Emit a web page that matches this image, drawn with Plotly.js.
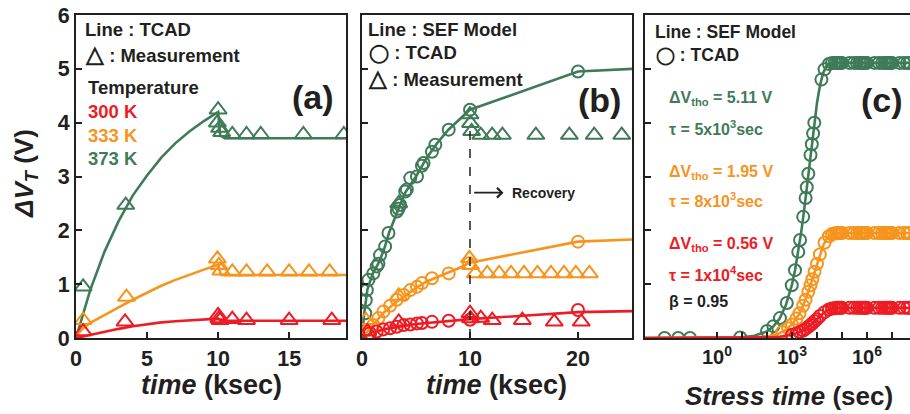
<!DOCTYPE html>
<html>
<head>
<meta charset="utf-8">
<script src="https://cdn.plot.ly/plotly-3.0.1.min.js"></script>
<style>html,body{margin:0;padding:0;background:#fff;}#chart{width:910px;height:414px;}</style>
</head>
<body>
<div id="chart"></div>
<script>
// ---------- Panel (a): TCAD lines and measurement triangles (time in ksec) ----------
const aGreenLineT = [0, 0.5, 1, 2, 3, 4, 5, 6, 7, 8, 9, 10, 10.15, 10.5, 19];
const aGreenLineV = [0, 0.46, 0.89, 1.6, 2.17, 2.65, 3.02, 3.35, 3.62, 3.84, 4.03, 4.2, 3.76, 3.71, 3.71];
const aOrangeLineT = [0, 0.5, 1, 2, 3, 4, 5, 6, 7, 8, 9, 10, 10.2, 19];
const aOrangeLineV = [0.05, 0.18, 0.28, 0.43, 0.57, 0.71, 0.84, 0.97, 1.08, 1.18, 1.27, 1.36, 1.17, 1.17];
const aRedLineT = [0, 1, 2, 3, 4, 5, 6, 7, 8, 9, 10, 10.2, 19];
const aRedLineV = [0, 0.06, 0.12, 0.17, 0.22, 0.26, 0.29, 0.31, 0.33, 0.35, 0.36, 0.32, 0.32];

const aGreenMeasT = [0.5, 3.5, 10, 9.95, 10.1, 10.25, 11, 12, 13, 16, 18.85];
const aGreenMeasV = [0.95, 2.47, 4.24, 4.0, 3.9, 3.82, 3.78, 3.78, 3.78, 3.78, 3.78];
const aOrangeMeasT = [0.5, 3.55, 9.95, 10.05, 10.2, 11, 12, 13.45, 15, 16.4, 17.85];
const aOrangeMeasV = [0.33, 0.76, 1.47, 1.35, 1.25, 1.23, 1.23, 1.23, 1.23, 1.23, 1.23];
const aRedMeasT = [0.5, 3.45, 10, 10.05, 10.15, 11, 12, 15, 18];
const aRedMeasV = [0.12, 0.3, 0.42, 0.36, 0.33, 0.35, 0.33, 0.33, 0.33];

// ---------- Panel (b): SEF model lines, TCAD circles, measurement triangles ----------
const bGreenLineT = [0, 0.2, 0.5, 1, 1.5, 2, 2.5, 3, 3.5, 4, 5, 6, 7, 8, 9, 10, 20, 25];
const bGreenLineV = [0, 0.45, 0.9, 1.2, 1.38, 1.62, 1.95, 2.22, 2.46, 2.7, 3.0, 3.35, 3.63, 3.87, 4.06, 4.24, 4.95, 5.0];
const bOrangeLineT = [0, 0.5, 1, 1.5, 2, 3, 4, 5, 6, 7, 8, 9, 10, 20, 25];
const bOrangeLineV = [0, 0.12, 0.24, 0.36, 0.47, 0.64, 0.79, 0.93, 1.05, 1.13, 1.21, 1.3, 1.4, 1.79, 1.83];
const bRedLineT = [0, 1, 2, 3, 4, 5, 6, 7, 8, 9, 10, 20, 25];
const bRedLineV = [0, 0.1, 0.16, 0.2, 0.23, 0.26, 0.28, 0.3, 0.32, 0.33, 0.35, 0.48, 0.5];

const bGreenTcadT = [0.25, 0.3, 0.35, 0.45, 0.6, 1.05, 1.36, 1.52, 1.67, 2.14, 2.45, 3.23, 3.38, 3.53, 4.0, 4.15, 4.47, 5.09, 5.55, 5.7, 6.48, 6.79, 8.03, 10, 20];
const bGreenTcadV = [0.15, 0.46, 0.7, 0.89, 1.08, 1.2, 1.33, 1.38, 1.54, 1.7, 1.95, 2.35, 2.4, 2.47, 2.72, 2.76, 2.97, 3.0, 3.2, 3.25, 3.46, 3.59, 3.87, 4.24, 4.95];
const bOrangeTcadT = [0.59, 1.05, 1.52, 1.98, 2.6, 3.22, 3.85, 4.47, 5.09, 5.55, 6.48, 8.03, 9.9, 20];
const bOrangeTcadV = [0.15, 0.24, 0.37, 0.49, 0.6, 0.71, 0.8, 0.89, 0.95, 1.02, 1.11, 1.2, 1.39, 1.79];
const bRedTcadT = [0.74, 1.36, 1.98, 2.6, 3.22, 3.85, 4.47, 5.09, 5.55, 6.48, 8.03, 10, 20];
const bRedTcadV = [0.09, 0.12, 0.16, 0.18, 0.21, 0.24, 0.25, 0.27, 0.28, 0.3, 0.32, 0.34, 0.52];

const bGreenMeasT = [3.4, 10, 10.05, 10.15, 11, 12.05, 13, 16.1, 19.2, 21.5, 24.05];
const bGreenMeasV = [2.5, 4.15, 3.99, 3.84, 3.77, 3.77, 3.77, 3.77, 3.77, 3.77, 3.77];
const bOrangeMeasT = [0.35, 3.4, 9.95, 10.05, 10.5, 11.6, 12.7, 13.8, 15.0, 16.25, 17.5, 18.7, 19.8, 21.05];
const bOrangeMeasV = [0.33, 0.78, 1.48, 1.35, 1.2, 1.2, 1.2, 1.2, 1.2, 1.2, 1.2, 1.2, 1.2, 1.2];
const bRedMeasT = [0.5, 3.4, 10, 10.05, 11, 12.06, 14.85, 17.8, 20.3];
const bRedMeasV = [0.12, 0.3, 0.46, 0.36, 0.37, 0.33, 0.33, 0.3, 0.3];

const recoveryStart = 10;      // ksec, stress end
const recoveryDashTop = 3.9;   // V

// ---------- Panel (c): SEF model vs stress time (sec, log) ----------
const cLineT = [0.001, 0.01, 0.1, 1, 10, 31.6, 100, 178, 316, 562, 1000, 1333, 1778, 2371, 3162, 4217, 5623, 7499, 10000, 13335, 17783, 23714, 31623, 56234, 100000, 1e6, 1e7, 1e8];
const cGreenLineV = [0, 0, 0, 0.002, 0.014, 0.042, 0.123, 0.211, 0.358, 0.602, 0.997, 1.267, 1.6, 1.986, 2.43, 2.928, 3.44, 3.935, 4.37, 4.706, 4.93, 5.046, 5.094, 5.11, 5.11, 5.11, 5.11, 5.11];
const cOrangeLineV = [0, 0, 0, 0, 0.003, 0.01, 0.03, 0.052, 0.089, 0.15, 0.253, 0.325, 0.416, 0.527, 0.661, 0.819, 0.997, 1.189, 1.384, 1.566, 1.72, 1.832, 1.901, 1.947, 1.95, 1.95, 1.95, 1.95];
const cRedLineV = [0, 0, 0, 0, 0.001, 0.002, 0.007, 0.012, 0.021, 0.035, 0.059, 0.077, 0.099, 0.126, 0.159, 0.199, 0.246, 0.298, 0.354, 0.41, 0.461, 0.502, 0.532, 0.557, 0.56, 0.56, 0.56, 0.56];

const cGreenTcadT = [0.008, 0.028, 0.083, 8.5, 100, 180, 330, 620, 980, 1320, 1780, 2100, 2800, 3500, 3900, 4500, 5500, 6200, 7000, 7800, 15000, 20000, 30000,
  40000, 50000, 60000, 70000, 80000, 90000, 1e5, 2e5, 3e5, 4e5, 5e5, 6e5, 7e5, 8e5, 9e5, 1e6, 2e6, 3e6, 4e6, 5e6, 6e6, 7e6, 8e6, 9e6, 1e7, 2e7, 3e7, 4e7, 5e7];
const cGreenTcadV = [0, 0, 0, 0.01, 0.13, 0.22, 0.37, 0.65, 0.98, 1.26, 1.6, 1.82, 2.25, 2.6, 2.8, 3.05, 3.4, 3.6, 3.8, 4.0, 4.8, 4.99, 5.09,
  5.11, 5.11, 5.11, 5.11, 5.11, 5.11, 5.11, 5.11, 5.11, 5.11, 5.11, 5.11, 5.11, 5.11, 5.11, 5.11, 5.11, 5.11, 5.11, 5.11, 5.11, 5.11, 5.11, 5.11, 5.11, 5.11, 5.11, 5.11, 5.11];
const cOrangeTcadT = [400, 700, 1000, 1500, 2000, 2800, 3500, 4500, 5500, 6500, 8000, 10000, 13000, 20000, 30000,
  40000, 50000, 60000, 70000, 80000, 90000, 1e5, 2e5, 3e5, 4e5, 5e5, 6e5, 7e5, 8e5, 9e5, 1e6, 2e6, 3e6, 4e6, 5e6, 6e6, 7e6, 8e6, 9e6, 1e7, 2e7, 3e7, 4e7, 5e7];
const cOrangeTcadV = [0.11, 0.18, 0.25, 0.36, 0.46, 0.6, 0.71, 0.86, 0.98, 1.09, 1.23, 1.38, 1.55, 1.77, 1.89,
  1.93, 1.94, 1.95, 1.95, 1.95, 1.95, 1.95, 1.95, 1.95, 1.95, 1.95, 1.95, 1.95, 1.95, 1.95, 1.95, 1.95, 1.95, 1.95, 1.95, 1.95, 1.95, 1.95, 1.95, 1.95, 1.95, 1.95, 1.95, 1.95];
const cRedTcadT = [1000, 1500, 2000, 2800, 3500, 4500, 5500, 6500, 8000, 10000, 13000, 20000, 30000,
  40000, 50000, 60000, 70000, 80000, 90000, 1e5, 2e5, 3e5, 4e5, 5e5, 6e5, 7e5, 8e5, 9e5, 1e6, 2e6, 3e6, 4e6, 5e6, 6e6, 7e6, 8e6, 9e6, 1e7, 2e7, 3e7, 4e7, 5e7];
const cRedTcadV = [0.06, 0.085, 0.11, 0.14, 0.17, 0.21, 0.24, 0.27, 0.31, 0.35, 0.41, 0.48, 0.53,
  0.547, 0.554, 0.56, 0.56, 0.56, 0.56, 0.56, 0.56, 0.56, 0.56, 0.56, 0.56, 0.56, 0.56, 0.56, 0.56, 0.56, 0.56, 0.56, 0.56, 0.56, 0.56, 0.56, 0.56, 0.56, 0.56, 0.56, 0.56, 0.56];

const cTickVals = [1, 1e3, 1e6];
const cTickText = ['10<sup>0</sup>', '10<sup>3</sup>', '10<sup>6</sup>'];
const cMinorTickVals = [10, 100, 1e4, 1e5, 1e7];

// ---------- styling ----------
const GREEN = '#3f7b58', ORANGE = '#f7941d', RED = '#ed1c24', INK = '#231f20';
const FONT = 'Liberation Sans, Arial, Helvetica, sans-serif';
const W = 910, H = 414;
const px = x => x / W, py = y => 1 - y / H;
const TRI = 15, CIR = 12;

function line(x, y, color, xa, ya) {
  return {x, y, xaxis: xa, yaxis: ya, type: 'scatter', mode: 'lines', line: {color, width: 2.6}, hoverinfo: 'skip', showlegend: false};
}
function marks(x, y, color, sym, size, xa, ya) {
  return {x, y, xaxis: xa, yaxis: ya, type: 'scatter', mode: 'markers', hoverinfo: 'skip', showlegend: false,
    marker: {symbol: sym, size, color, line: {color, width: 2}}};
}

const traces = [
  line(aGreenLineT, aGreenLineV, GREEN, 'x', 'y'),
  line(aOrangeLineT, aOrangeLineV, ORANGE, 'x', 'y'),
  line(aRedLineT, aRedLineV, RED, 'x', 'y'),
  marks(aGreenMeasT, aGreenMeasV, GREEN, 'triangle-up-open', TRI, 'x', 'y'),
  marks(aOrangeMeasT, aOrangeMeasV, ORANGE, 'triangle-up-open', TRI, 'x', 'y'),
  marks(aRedMeasT, aRedMeasV, RED, 'triangle-up-open', TRI, 'x', 'y'),

  line(bGreenLineT, bGreenLineV, GREEN, 'x2', 'y2'),
  line(bOrangeLineT, bOrangeLineV, ORANGE, 'x2', 'y2'),
  line(bRedLineT, bRedLineV, RED, 'x2', 'y2'),
  marks(bGreenTcadT, bGreenTcadV, GREEN, 'circle-open', CIR, 'x2', 'y2'),
  marks(bOrangeTcadT, bOrangeTcadV, ORANGE, 'circle-open', CIR, 'x2', 'y2'),
  marks(bRedTcadT, bRedTcadV, RED, 'circle-open', CIR, 'x2', 'y2'),
  marks(bGreenMeasT, bGreenMeasV, GREEN, 'triangle-up-open', TRI, 'x2', 'y2'),
  marks(bOrangeMeasT, bOrangeMeasV, ORANGE, 'triangle-up-open', TRI, 'x2', 'y2'),
  marks(bRedMeasT, bRedMeasV, RED, 'triangle-up-open', TRI, 'x2', 'y2'),

  line(cLineT, cGreenLineV, GREEN, 'x3', 'y3'),
  marks(cGreenTcadT, cGreenTcadV, GREEN, 'circle-open', CIR, 'x3', 'y3'),
  line(cLineT, cOrangeLineV, ORANGE, 'x3', 'y3'),
  marks(cOrangeTcadT, cOrangeTcadV, ORANGE, 'circle-open', CIR, 'x3', 'y3'),
  line(cLineT, cRedLineV, RED, 'x3', 'y3'),
  marks(cRedTcadT, cRedTcadV, RED, 'circle-open', CIR, 'x3', 'y3')
];

const tickFont = {family: FONT, size: 21.5, color: INK, weight: 'bold'};
const baseAxis = {showline: true, linecolor: INK, linewidth: 2, mirror: true, ticks: 'inside', ticklen: 6, tickwidth: 2,
  tickcolor: INK, showgrid: false, zeroline: false, tickfont: tickFont, fixedrange: true};
const yDom = [py(338), py(15)];

const layout = {
  width: W, height: H, margin: {l: 0, r: 0, t: 0, b: 0}, paper_bgcolor: '#fff', plot_bgcolor: '#fff', showlegend: false,
  xaxis: Object.assign({}, baseAxis, {domain: [px(76), px(346)], range: [0, 19], tickvals: [0, 5, 10, 15], anchor: 'y'}),
  yaxis: Object.assign({}, baseAxis, {domain: yDom, range: [0, 6], tickvals: [0, 1, 2, 3, 4, 5, 6], anchor: 'x'}),
  xaxis2: Object.assign({}, baseAxis, {domain: [px(362), px(632)], range: [0, 25], tickvals: [0, 10, 20], anchor: 'y2'}),
  yaxis2: Object.assign({}, baseAxis, {domain: yDom, range: [0, 6], tickvals: [1, 2, 3, 4, 5], showticklabels: false, anchor: 'x2'}),
  xaxis3: Object.assign({}, baseAxis, {domain: [px(645), 1], type: 'log', range: [-2.88, 7.72], tickmode: 'array', tickvals: cTickVals, ticktext: cTickText,
    minor: {tickmode: 'array', tickvals: cMinorTickVals, ticks: 'inside', ticklen: 6, tickwidth: 2, tickcolor: INK, showgrid: false},
    tickfont: {family: FONT, size: 20, color: INK, weight: 'bold'}, anchor: 'y3'}),
  yaxis3: Object.assign({}, baseAxis, {domain: yDom, range: [0, 6], tickvals: [1, 2, 3, 4, 5], showticklabels: false, mirror: false, anchor: 'x3'}),
  shapes: [
    {type: 'line', xref: 'x2', yref: 'y2', x0: recoveryStart, x1: recoveryStart, y0: 0, y1: recoveryDashTop,
      line: {color: INK, width: 1.5, dash: 'dash'}}
  ],
  annotations: []
};

function txt(text, x, y, opts) {
  layout.annotations.push(Object.assign({text, xref: 'paper', yref: 'paper', x: px(x), y: py(y), xanchor: 'left', yanchor: 'middle',
    showarrow: false, font: {family: FONT, size: 18.5, color: INK, weight: 'bold'}}, opts || {}));
}
const TRIG = '<span style="font-size:23px">△</span>';
const CIRG = '<span style="font-size:18px">◯</span>';
// Panel (a) legend texts
txt('Line : TCAD', 83, 30);
txt(TRIG + ' : Measurement', 83, 54);
txt('Temperature', 86, 87);
txt('300 K', 86, 111, {font: {family: FONT, size: 18.5, color: RED, weight: 'bold'}});
txt('333 K', 86, 135, {font: {family: FONT, size: 18.5, color: ORANGE, weight: 'bold'}});
txt('373 K', 86, 159, {font: {family: FONT, size: 18.5, color: GREEN, weight: 'bold'}});
txt('(a)', 313, 97, {xanchor: 'center', font: {family: FONT, size: 34, color: INK, weight: 'bold'}});
// Panel (b)
txt('Line : SEF Model', 366, 30);
txt(CIRG + ' : TCAD', 367, 53);
txt(TRIG + ' : Measurement', 366, 78);
txt('(b)', 599, 100, {xanchor: 'center', font: {family: FONT, size: 34, color: INK, weight: 'bold'}});
txt('Recovery', 510, 193, {font: {family: FONT, size: 14, color: INK, weight: 'bold'}});
layout.annotations.push({xref: 'x2', yref: 'y2', axref: 'x2', ayref: 'y2', x: 13.1, y: 2.7, ax: 10.25, ay: 2.7, text: '',
  showarrow: true, arrowhead: 4, arrowsize: 1.2, arrowwidth: 1.6, arrowcolor: INK});
// Panel (c)
txt('Line : SEF Model', 653, 32, {font: {family: FONT, size: 17.5, color: INK, weight: 'bold'}});
txt('<span style="font-size:17px">◯</span> : TCAD', 654, 55, {font: {family: FONT, size: 17.5, color: INK, weight: 'bold'}});
txt('(c)', 882, 100, {xanchor: 'center', font: {family: FONT, size: 34, color: INK, weight: 'bold'}});
const fC = c => ({family: FONT, size: 16, color: c, weight: 'bold'});
txt('ΔV<sub>tho</sub> = 5.11 V', 667, 99, {font: fC(GREEN)});
txt('τ = 5x10<sup>3</sup>sec', 667, 128, {font: fC(GREEN)});
txt('ΔV<sub>tho</sub> = 1.95 V', 667, 172, {font: fC(ORANGE)});
txt('τ = 8x10<sup>3</sup>sec', 667, 200, {font: fC(ORANGE)});
txt('ΔV<sub>tho</sub> = 0.56 V', 667, 245, {font: fC(RED)});
txt('τ = 1x10<sup>4</sup>sec', 667, 274, {font: fC(RED)});
txt('β = 0.95', 667, 301, {font: fC(INK)});
// Axis titles
const titleFont = {family: FONT, size: 27, color: INK, weight: 'bold'};
txt('<i>time</i> (ksec)', 211, 385, {xanchor: 'center', font: titleFont});
txt('<i>time</i> (ksec)', 497, 385, {xanchor: 'center', font: titleFont});
txt('<i>Stress time</i> (sec)', 789, 396, {xanchor: 'center', font: {family: FONT, size: 26, color: INK, weight: 'bold'}});
txt('<i>ΔV<sub>T</sub></i> (V)', 25, 174, {xanchor: 'center', textangle: -90, font: {family: FONT, size: 26, color: INK, weight: 'bold'}});

Plotly.newPlot('chart', traces, layout, {staticPlot: true, displayModeBar: false});
</script>
</body>
</html>
